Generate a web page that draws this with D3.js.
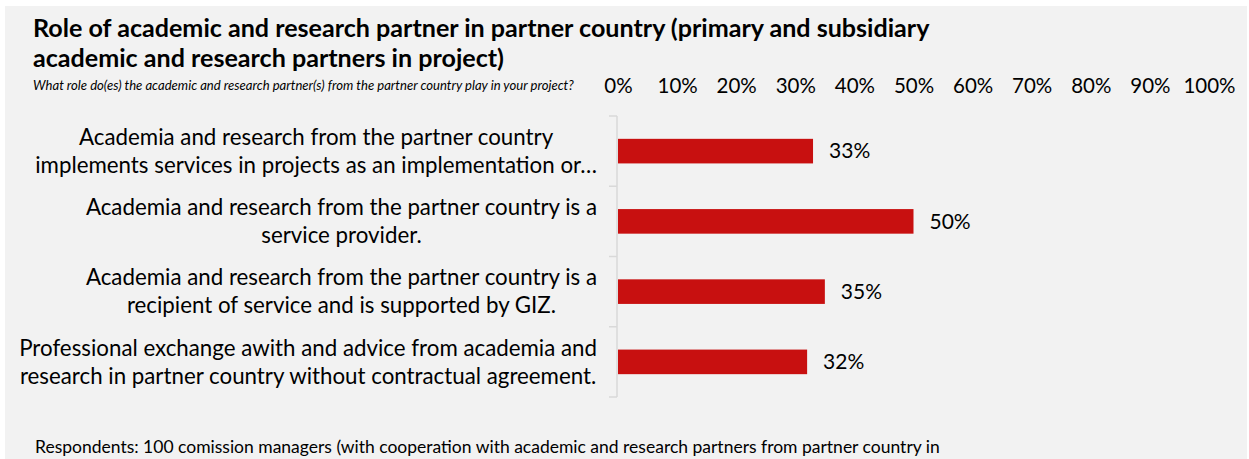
<!DOCTYPE html>
<html>
<head>
<meta charset="utf-8">
<script src="https://cdn.jsdelivr.net/npm/d3@7"></script>
<style>
  html, body { margin: 0; padding: 0; background: #ffffff; }
  svg { display: block; }
  text { font-family: Lato, "Open Sans", "Liberation Sans", sans-serif; fill: #000; }
</style>
</head>
<body>
<svg id="chart" width="1249" height="459"></svg>
<script>
// Survey answers: share of respondents per role
const categories = [
  ["Academia and research from the partner country", "implements services in projects as an implementation or…"],
  ["Academia and research from the partner country is a", "service provider."],
  ["Academia and research from the partner country is a", "recipient of service and is supported by GIZ."],
  ["Professional exchange awith and advice from academia and", "research in partner country without contractual agreement."]
];
const shares = [0.33, 0.50, 0.35, 0.32];
const tickValues = [0, 0.1, 0.2, 0.3, 0.4, 0.5, 0.6, 0.7, 0.8, 0.9, 1.0];

const titleLines = [
  "Role of academic and research partner in partner country (primary and subsidiary",
  "academic and research partners in project)"
];
const question = "What role do(es) the academic and research partner(s) from the partner country play in your project?";
const footnote = "Respondents: 100 comission managers (with cooperation with academic and research partners from partner country in";

const svg = d3.select("#chart");
const W = 1249, H = 459;

// panel background
svg.append("rect").attr("x", 5).attr("y", 6).attr("width", W - 7).attr("height", H - 6).attr("fill", "#f2f2f2");

// title
svg.append("g").selectAll("text").data(titleLines).join("text")
  .attr("x", 33).attr("y", (d, i) => 37 + i * 30)
  .attr("font-size", 25.1).attr("font-weight", "bold")
  .text(d => d);

svg.append("text").attr("x", 33).attr("y", 90)
  .attr("font-size", 13.1).attr("font-style", "italic")
  .text(question);

// scales
const x = d3.scaleLinear().domain([0, 1]).range([618, 1209]);
const y = d3.scaleBand().domain(d3.range(categories.length)).range([116, 397]).paddingInner(0.65).paddingOuter(0.325);

// top axis labels (no line)
const xAxis = d3.axisTop(x).tickValues(tickValues).tickFormat(d3.format(".0%")).tickSize(0).tickPadding(0);
const gx = svg.append("g").attr("transform", "translate(0,93)").call(xAxis);
gx.select(".domain").remove();
gx.selectAll("text").attr("font-size", 20.5).attr("fill", "#000").attr("font-family", "Lato, 'Open Sans', sans-serif");

// left category axis line with ticks between bands
const axisG = svg.append("g");
axisG.append("line").attr("x1", 617).attr("x2", 617).attr("y1", 116).attr("y2", 397)
  .attr("stroke", "#d9d9d9").attr("stroke-width", 1.5);
const bounds = d3.range(categories.length + 1).map(i => 116 + i * y.step());
axisG.selectAll("line.tk").data(bounds).join("line").attr("class", "tk")
  .attr("x1", 609).attr("x2", 617).attr("y1", d => d).attr("y2", d => d)
  .attr("stroke", "#d9d9d9").attr("stroke-width", 1.5);

// bars
svg.append("g").selectAll("rect").data(shares).join("rect")
  .attr("x", x(0)).attr("y", (d, i) => y(i))
  .attr("width", d => x(d) - x(0)).attr("height", y.bandwidth())
  .attr("fill", "#c81010");

// value labels
svg.append("g").selectAll("text").data(shares).join("text")
  .attr("x", d => x(d) + 16).attr("y", (d, i) => y(i) + y.bandwidth() / 2)
  .attr("dy", "0.35em").attr("font-size", 21)
  .text(d => d3.format(".0%")(d));

// category labels: block right-aligned to the axis, lines centered within block
const labelRight = 597;
categories.forEach((lines, i) => {
  const g = svg.append("g");
  const cy = y(i) + y.bandwidth() / 2;
  const ts = g.selectAll("text").data(lines).join("text")
    .attr("font-size", 22.3)
    .attr("y", (d, j) => cy + (j - (lines.length - 1) / 2) * 28)
    .attr("dy", "0.35em")
    .attr("text-anchor", "middle")
    .text(d => d);
  let maxW = 0;
  ts.each(function () { maxW = Math.max(maxW, this.getComputedTextLength()); });
  ts.attr("x", labelRight - maxW / 2);
});

// footnote
svg.append("text").attr("x", 35).attr("y", 453)
  .attr("font-size", 17.5).text(footnote);
</script>
</body>
</html>
